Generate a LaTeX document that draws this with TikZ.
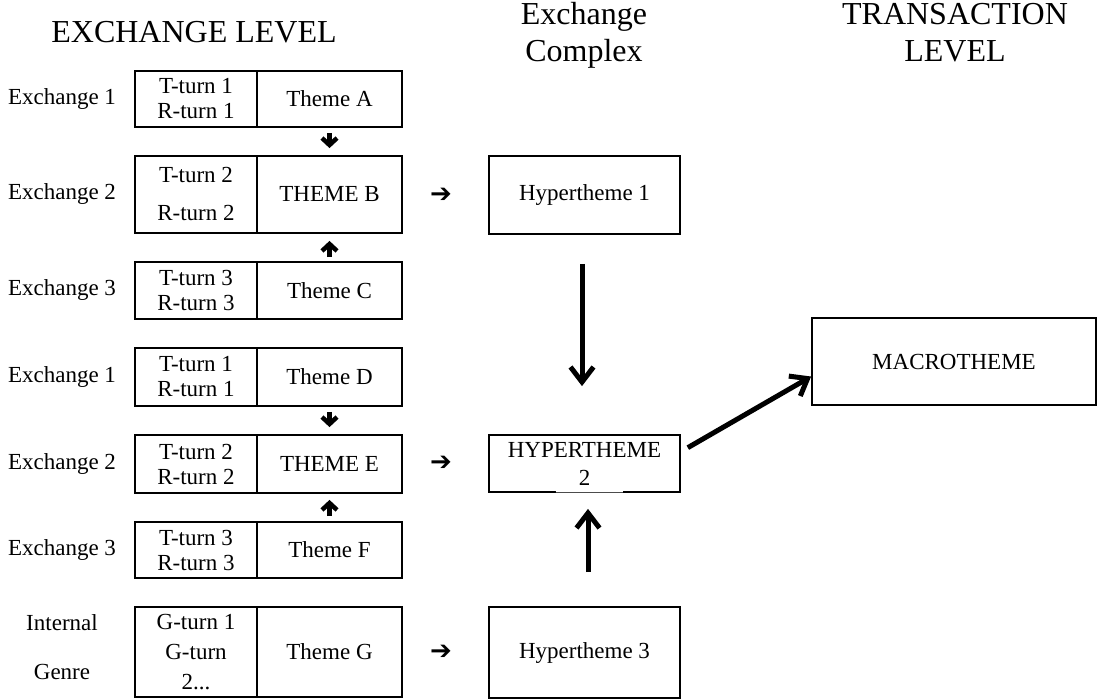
\documentclass[tikz,border=0pt]{standalone}
\usepackage{fontspec}
\setmainfont{Liberation Serif}
\newfontfamily\symfont{DejaVu Sans}
\usetikzlibrary{arrows.meta}
\begin{document}
\begin{tikzpicture}[x=1pt,y=-1pt,
  cell/.style={draw, line width=1.8pt, inner sep=0pt, align=center, font=\fontsize{23}{25}\selectfont},
  lcell/.style={cell, minimum width=122pt},
  rcell/.style={cell, minimum width=145pt},
  lab/.style={font=\fontsize{23}{25}\selectfont, align=center},
  ttl/.style={font=\fontsize{32}{37}\selectfont, align=center, inner sep=0pt},
  hbox/.style={draw, line width=1.8pt, minimum width=191pt, inner sep=0pt, align=center, font=\fontsize{23}{28}\selectfont},
  smarr/.style={line width=4.5pt, -{Straight Barb[length=7pt,width=15pt]}},
  bigarr/.style={line width=5pt, -{Straight Barb[length=15pt,width=23pt]}},
  glyph/.style={font=\symfont\bfseries\fontsize{26}{26}\selectfont, inner sep=0pt}
]
\useasboundingbox (0,0) rectangle (1097,700);

% titles
\node[ttl, anchor=base] (t1) at (194,43) {EXCHANGE LEVEL};
\node[ttl, anchor=base] (t2) at (584,62) {Exchange\\Complex};
\node[ttl, anchor=base] (t3) at (955,62) {TRANSACTION\\LEVEL};

% rows
\node[lcell, minimum height=56pt] (tA) at (196,99) {T-turn 1\\R-turn 1};
\node[rcell, minimum height=56pt] (thA) at (329.5,99) {Theme A};
\node[lab] (xA) at (62,99) {Exchange 1};

\node[lcell, minimum height=77pt] (tB) at (196,194.5) {T-turn 2\\[13pt]R-turn 2};
\node[rcell, minimum height=77pt] (thB) at (329.5,194.5) {THEME B};
\node[lab] (xB) at (62,194.5) {Exchange 2};

\node[lcell, minimum height=57pt] (tC) at (196,290.5) {T-turn 3\\R-turn 3};
\node[rcell, minimum height=57pt] (thC) at (329.5,290.5) {Theme C};
\node[lab] (xC) at (62,290.5) {Exchange 3};

\node[lcell, minimum height=58pt] (tD) at (196,377) {T-turn 1\\R-turn 1};
\node[rcell, minimum height=58pt] (thD) at (329.5,377) {Theme D};
\node[lab] (xD) at (62,377) {Exchange 1};

\node[lcell, minimum height=58pt] (tE) at (196,464) {T-turn 2\\R-turn 2};
\node[rcell, minimum height=58pt] (thE) at (329.5,464) {THEME E};
\node[lab] (xE) at (62,464) {Exchange 2};

\node[lcell, minimum height=56pt] (tF) at (196,550) {T-turn 3\\R-turn 3};
\node[rcell, minimum height=56pt] (thF) at (329.5,550) {Theme F};
\node[lab] (xF) at (62,550) {Exchange 3};

\node[lcell, minimum height=90pt, font=\fontsize{23}{30}\selectfont] (tG) at (196,652) {G-turn 1\\G-turn\\2...};
\node[rcell, minimum height=90pt] (thG) at (329.5,652) {Theme G};
\node[lab] (xG) at (62,647.5) {Internal\\[24pt]Genre};

% small arrows between themes
\draw[smarr, shorten <=5pt, shorten >=7pt] (thA) -- (thB);
\draw[smarr, shorten <=4pt, shorten >=7pt] (thC) -- (thB);
\draw[smarr, shorten <=5pt, shorten >=7pt] (thD) -- (thE);
\draw[smarr, shorten <=5pt, shorten >=6pt] (thF) -- (thE);

% hyperthemes
\node[hbox, minimum height=78pt] (h1) at (584.5,195) {Hypertheme 1};
\node[hbox, minimum height=57pt] (h2) at (584.5,463.5) {HYPERTHEME\\2};
\node[hbox, minimum height=91pt] (h3) at (584.5,652.5) {Hypertheme 3};
\node[hbox, minimum width=284pt, minimum height=87pt] (mac) at (954,361.5) {MACROTHEME};

% thin gap in the bottom border of hypertheme 2
\draw[white, line width=2.4pt] ([xshift=-29pt,yshift=0.9pt]h2.south) -- ([xshift=38pt,yshift=0.9pt]h2.south);
\draw[black!70, line width=0.8pt] ([xshift=-29pt,yshift=0.9pt]h2.south) -- ([xshift=38pt,yshift=0.9pt]h2.south);

% glyph arrows
\node[glyph] (g1) at (441,195) {➔};
\node[glyph] (g2) at (441,463) {➔};
\node[glyph] (g3) at (441,652) {➔};

% big arrows
\draw[bigarr, shorten <=29pt, shorten >=48pt] ([xshift=-2.5pt]h1.south) -- ([xshift=-2.5pt]h2.north);
\draw[bigarr, shorten <=34pt, shorten >=16pt] ([xshift=3.5pt]h3.north) -- ([xshift=3.5pt]h2.south);
\draw[bigarr, shorten <=8pt] (h2.7) -- (mac.186.6);
\end{tikzpicture}
\end{document}
